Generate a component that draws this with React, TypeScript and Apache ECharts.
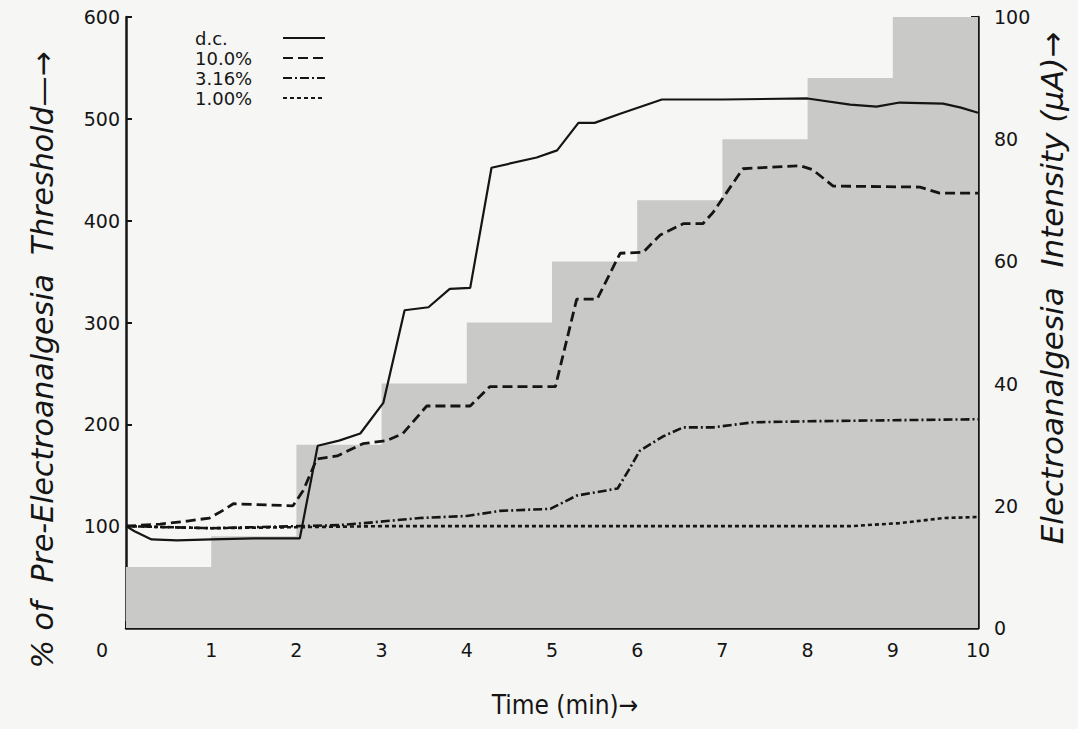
import React, { useEffect, useRef } from "react";
import * as echarts from "echarts";

// Electroanalgesia intensity (µA) step levels, one per minute
const stepTimes = [0, 1, 2, 3, 4, 5, 6, 7, 8, 9, 10];
const stepIntensity = [10, 15, 30, 40, 50, 60, 70, 80, 90, 100, 100];

// % of pre-electroanalgesia threshold curves
const dcTime = [0, 0.1, 0.3, 0.6, 1, 1.5, 2.04, 2.25, 2.5, 2.75, 3.02, 3.27, 3.55, 3.8, 4.04, 4.29, 4.82, 5.06, 5.31, 5.5, 5.8, 6.29, 7.0, 8.0, 8.5, 8.81, 9.08, 9.59, 9.8, 10];
const dcValue = [100, 95, 87, 86, 87, 88, 88, 179, 184, 191, 221, 312, 315, 333, 334, 452, 462, 469, 496, 496, 505, 519, 519, 520, 514, 512, 516, 515, 511, 506];

const p10Time = [0, 0.4, 0.72, 0.98, 1.15, 1.26, 1.96, 2.08, 2.24, 2.48, 2.78, 3.06, 3.25, 3.53, 4.04, 4.27, 5.04, 5.29, 5.53, 5.8, 6.07, 6.27, 6.54, 6.77, 6.89, 7.24, 7.91, 8.06, 8.3, 9.32, 9.55, 10];
const p10Value = [100, 102, 105, 108, 116, 122, 120, 135, 166, 169, 181, 184, 191, 218, 218, 237, 237, 323, 323, 368, 369, 386, 397, 397, 408, 451, 454, 450, 434, 433, 427, 427];

const p316Time = [0, 0.5, 1, 1.5, 2, 2.5, 2.8, 3.06, 3.45, 4.0, 4.39, 4.98, 5.29, 5.77, 5.9, 6.03, 6.3, 6.54, 6.89, 7.36, 8, 9, 10];
const p316Value = [100, 99, 98, 99, 100, 101, 103, 105, 108, 110, 115, 117, 130, 137, 155, 174, 188, 197, 197, 202, 203, 204, 205];

const p100Time = [0, 1, 2, 3, 5, 7, 8.5, 9.08, 9.6, 10];
const p100Value = [100, 98, 99, 100, 100, 100, 100, 103, 108, 109];

const xTicks = [0, 1, 2, 3, 4, 5, 6, 7, 8, 9, 10];

const legendNames = ["d.c.", "10.0%", "3.16%", "1.00%"];

const zip = (a: number[], b: number[]) => a.map((x, i) => [x, b[i]]);

export default function App() {
  const ref = useRef<HTMLDivElement>(null);
  useEffect(() => {
    document.body.style.margin = "0";
    const chart = echarts.init(ref.current!, undefined, { renderer: "svg" });
    const ink = "#151515";
    const tickFont = { fontFamily: "DejaVu Sans", fontSize: 19, color: ink };
    const dashes: any[] = ["solid", [10, 5], [9, 3, 2, 3], [4, 3]];
    const widths = [2.2, 2.8, 2.6, 2.6];
    const curves = [
      zip(dcTime, dcValue),
      zip(p10Time, p10Value),
      zip(p316Time, p316Value),
      zip(p100Time, p100Value),
    ];
    const legendGraphics: any[] = [];
    legendNames.forEach((name, i) => {
      const y = 38 + i * 20;
      legendGraphics.push({
        type: "text",
        x: 195,
        y,
        style: {
          text: name,
          fontFamily: "DejaVu Sans",
          fontSize: 18,
          lineHeight: 18,
          fill: ink,
          verticalAlign: "middle",
        },
      });
      legendGraphics.push({
        type: "line",
        shape: { x1: 283, y1: y, x2: 325, y2: y },
        style: { stroke: ink, lineWidth: 2.2, lineDash: dashes[i] === "solid" ? null : dashes[i] },
      });
    });
    chart.setOption({
      animation: false,
      backgroundColor: "#f6f6f4",
      grid: { left: 126, right: 100, top: 17, bottom: 101 },
      xAxis: {
        type: "value",
        min: 0,
        max: 10,
        interval: 1,
        axisLine: { lineStyle: { color: ink, width: 2.5 } },
        axisTick: { inside: true, length: 7, lineStyle: { color: ink, width: 2 } },
        axisLabel: { ...tickFont, margin: 12, formatter: (v: number) => (v === 0 ? "" : String(v)) },
        splitLine: { show: false },
        data: xTicks,
      },
      yAxis: [
        {
          type: "value",
          min: 0,
          max: 600,
          interval: 100,
          position: "left",
          axisLine: { show: true, lineStyle: { color: ink, width: 2.5 } },
          axisTick: { show: true, inside: true, length: 6, lineStyle: { color: ink, width: 2 } },
          axisLabel: { ...tickFont, margin: 6, formatter: (v: number) => (v === 0 ? "" : String(v)) },
          splitLine: { show: false },
        },
        {
          type: "value",
          min: 0,
          max: 100,
          interval: 10,
          position: "right",
          axisLine: { show: true, lineStyle: { color: ink, width: 2.5 } },
          axisTick: { show: true, inside: true, length: 7, lineStyle: { color: ink, width: 2 } },
          axisLabel: { ...tickFont, margin: 16, formatter: (v: number) => (v % 20 === 0 ? String(v) : "") },
          splitLine: { show: false },
        },
      ],
      series: [
        {
          name: "Intensity",
          type: "line",
          yAxisIndex: 1,
          step: "end",
          symbol: "none",
          data: zip(stepTimes, stepIntensity),
          lineStyle: { width: 0, opacity: 0 },
          areaStyle: { color: "#c9c9c7", opacity: 1 },
          z: 1,
        },
        ...legendNames.map((name, i) => ({
          name,
          type: "line",
          yAxisIndex: 0,
          symbol: "none",
          data: curves[i],
          lineStyle: { color: ink, width: widths[i], type: dashes[i] },
          z: 3,
        })),
      ],
      graphic: [
        ...legendGraphics,
        {
          type: "text",
          left: 96,
          top: 640,
          style: { text: "0", fontFamily: "DejaVu Sans", fontSize: 19, fill: ink },
        },
        {
          type: "text",
          x: 42,
          y: 360,
          rotation: Math.PI / 2,
          style: {
            text: "% of  Pre-Electroanalgesia  Threshold\u2014\u2192",
            fontFamily: "DejaVu Sans",
            fontStyle: "italic",
            fontSize: 30,
            fill: ink,
            align: "center",
            verticalAlign: "middle",
          },
        },
        {
          type: "text",
          x: 1052,
          y: 288,
          rotation: Math.PI / 2,
          style: {
            text: "Electroanalgesia  Intensity (\u00b5A)\u2192",
            fontFamily: "DejaVu Sans",
            fontStyle: "italic",
            fontSize: 31,
            fill: ink,
            align: "center",
            verticalAlign: "middle",
          },
        },
        {
          type: "text",
          x: 565,
          y: 705,
          style: {
            text: "Time (min)\u2192",
            fontFamily: "DejaVu Sans Condensed",
            fontSize: 26,
            fill: ink,
            align: "center",
            verticalAlign: "middle",
          },
        },
      ],
    });
    return () => chart.dispose();
  }, []);
  return <div ref={ref} style={{ width: 1078, height: 729 }} />;
}
